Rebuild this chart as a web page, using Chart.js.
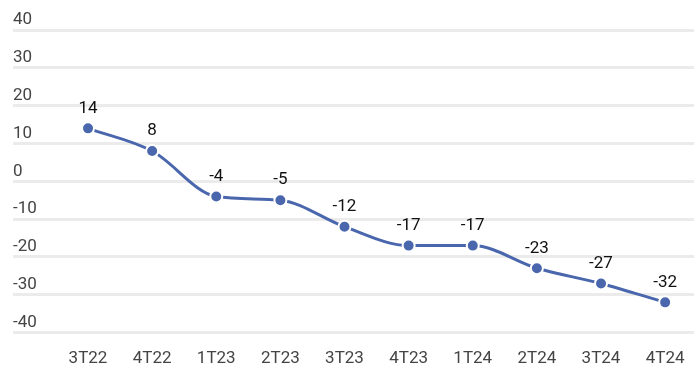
<!DOCTYPE html>
<html>
<head>
<meta charset="utf-8">
<script src="https://cdn.jsdelivr.net/npm/chart.js@4"></script>
<style>
  html, body { margin: 0; padding: 0; background: #fff; }
  #wrap { width: 694px; height: 381px; }
</style>
</head>
<body>
<div id="wrap"><canvas id="c" width="694" height="381"></canvas></div>
<script>
const categories = ['3T22', '4T22', '1T23', '2T23', '3T23', '4T23', '1T24', '2T24', '3T24', '4T24'];
const values = [14, 8, -4, -5, -12, -17, -17, -23, -27, -32];
const yTicks = [-40, -30, -20, -10, 0, 10, 20, 30, 40];

const lineColor = '#4a67ad';

const labelPlugin = {
  id: 'pointLabels',
  afterDatasetsDraw(chart) {
    const ctx = chart.ctx;
    const meta = chart.getDatasetMeta(0);
    ctx.save();
    ctx.font = '17px Roboto';
    ctx.fillStyle = '#111';
    ctx.textAlign = 'center';
    ctx.textBaseline = 'middle';
    meta.data.forEach((pt, i) => {
      ctx.fillText(String(values[i]), pt.x, pt.y - 20);
    });
    ctx.restore();
  }
};

new Chart(document.getElementById('c'), {
  type: 'line',
  data: {
    datasets: [{
      data: values.map((v, i) => ({ x: i, y: v })),
      borderColor: lineColor,
      backgroundColor: lineColor,
      borderWidth: 3,
      pointRadius: 6,
      pointBorderWidth: 2,
      pointBorderColor: '#fff',
      pointBackgroundColor: lineColor,
      cubicInterpolationMode: 'monotone',
      fill: false
    }]
  },
  options: {
    responsive: false,
    animation: false,
    layout: { autoPadding: false, padding: { left: 13, right: 0, top: 30, bottom: 4 } },
    plugins: { legend: { display: false }, tooltip: { enabled: false } },
    scales: {
      x: {
        type: 'linear',
        min: -1.17,
        max: 9.45,
        grid: { display: false },
        border: { display: false },
        afterBuildTicks(scale) {
          scale.ticks = categories.map((c, i) => ({ value: i }));
        },
        afterFit(scale) {
          scale.paddingLeft = 0;
          scale.paddingRight = 0;
        },
        ticks: {
          autoSkip: false,
          maxRotation: 0,
          padding: 8,
          color: '#444',
          font: { family: 'Roboto', size: 17 },
          callback: (v) => categories[v] ?? ''
        }
      },
      y: {
        min: -40,
        max: 40,
        afterBuildTicks(scale) {
          scale.ticks = yTicks.map(v => ({ value: v }));
        },
        grid: { color: '#ebebeb', lineWidth: 3, drawTicks: false },
        border: { display: false },
        ticks: {
          mirror: true,
          padding: 0,
          labelOffset: -10,
          color: '#444',
          font: { family: 'Roboto', size: 17 }
        }
      }
    }
  },
  plugins: [labelPlugin]
});
</script>
</body>
</html>
